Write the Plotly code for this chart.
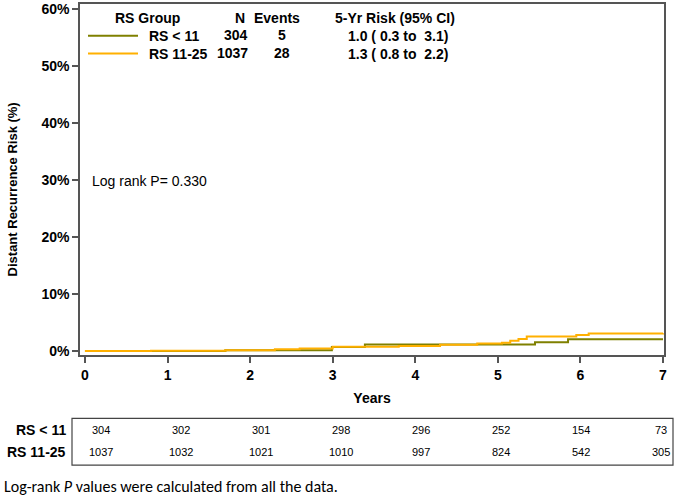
import plotly.graph_objects as go

# ---- data ----
groups = ["RS < 11", "RS 11-25"]
group_n = [304, 1037]
group_events = [5, 28]
group_risk = ["1.0 ( 0.3 to  3.1)", "1.3 ( 0.8 to  2.2)"]
colors = ["#7F8000", "#FFB000"]

rs_lt11_years = [0, 1.7, 2.99, 3.39, 5.45, 5.85, 7.0]
rs_lt11_risk = [0.0, 0.15, 0.7, 1.15, 1.55, 2.05, 2.05]

rs_11_25_years = [0, 0.8, 1.7, 2.3, 2.6, 3.0, 3.8, 4.3, 4.75, 5.05, 5.15, 5.25, 5.35, 5.95, 6.1, 7.0]
rs_11_25_risk = [0.0, 0.05, 0.15, 0.3, 0.45, 0.75, 0.9, 1.1, 1.3, 1.45, 1.8, 2.1, 2.55, 2.8, 3.05, 3.1]

risk_years = [0, 1, 2, 3, 4, 5, 6, 7]
at_risk_lt11 = [304, 302, 301, 298, 296, 252, 154, 73]
at_risk_11_25 = [1037, 1032, 1021, 1010, 997, 824, 542, 305]

y_ticks = [0, 10, 20, 30, 40, 50, 60]

FONT = "Liberation Sans, Arial, sans-serif"

fig = go.Figure()
fig.add_trace(go.Scatter(x=rs_lt11_years, y=rs_lt11_risk, mode="lines", line_shape="hv",
                         line=dict(color=colors[0], width=2), showlegend=False))
fig.add_trace(go.Scatter(x=rs_11_25_years, y=rs_11_25_risk, mode="lines", line_shape="hv",
                         line=dict(color=colors[1], width=2), showlegend=False))

axis_common = dict(showline=True, linecolor="#555555", linewidth=1.5, mirror=True,
                   ticks="outside", ticklen=6, tickcolor="#555555", tickwidth=1.5,
                   showgrid=False, zeroline=False, ticklabeloverflow="allow",
                   tickfont=dict(family=FONT, size=14, color="black", weight="bold"))

fig.update_layout(
    width=675, height=499,
    margin=dict(l=80, r=11, t=1, b=144),
    paper_bgcolor="white", plot_bgcolor="white",
    xaxis=dict(range=[-0.06, 7.012], tickvals=risk_years,
               title=dict(text="<b>Years</b>", font=dict(family=FONT, size=14, color="black"), standoff=12),
               **axis_common),
    # invisible axis for the number-at-risk table columns
    xaxis2=dict(range=[-0.2625, 7.0375], overlaying="x", anchor="y", visible=False),
    yaxis=dict(range=[-0.7, 60.87], tickvals=y_ticks, ticktext=[f"{v}%" for v in y_ticks],
               **axis_common),
)

def ypaper(py):
    return (355 - py) / 354

def xpaper(px):
    return (px - 80) / 584

fig.add_annotation(x=xpaper(12), y=ypaper(188), xref="paper", yref="paper",
                   text="<b>Distant Recurrence Risk (%)</b>", textangle=-90,
                   xanchor="center", yanchor="middle", showarrow=False,
                   font=dict(family=FONT, size=13, color="black"))

ann = []
hdr_font = dict(family=FONT, size=14, color="black")
ann.append(dict(x=xpaper(113), y=ypaper(15), text="<b>RS Group</b>", xanchor="left"))
ann.append(dict(x=xpaper(240), y=ypaper(15), text="<b>N</b>", xanchor="center"))
ann.append(dict(x=xpaper(252), y=ypaper(15), text="<b>Events</b>", xanchor="left"))
ann.append(dict(x=xpaper(333), y=ypaper(15), text="<b>5-Yr Risk (95% CI)</b>", xanchor="left"))
for i, (g, n, e, r) in enumerate(zip(groups, group_n, group_events, group_risk)):
    py = 33 + 18 * i
    ann.append(dict(x=xpaper(147), y=ypaper(py), text=f"<b>{g}</b>", xanchor="left"))
    ann.append(dict(x=xpaper(250), y=ypaper(py - 1), text=f"<b>{n}</b>", xanchor="right"))
    ann.append(dict(x=xpaper(282), y=ypaper(py - 1), text=f"<b>{e}</b>", xanchor="center"))
    ann.append(dict(x=xpaper(346), y=ypaper(py), text=f"<b>{r.replace(' ', '&nbsp;')}</b>", xanchor="left"))
    fig.add_shape(type="line", xref="paper", yref="paper", x0=xpaper(88), x1=xpaper(138),
                  y0=ypaper(py), y1=ypaper(py), line=dict(color=colors[i], width=2))
for a in ann:
    a.update(xref="paper", yref="paper", yanchor="middle", showarrow=False, font=hdr_font)
    fig.add_annotation(**a)

fig.add_annotation(x=xpaper(90), y=ypaper(180), xref="paper", yref="paper", text="Log rank P= 0.330",
                   xanchor="left", yanchor="middle", showarrow=False,
                   font=dict(family=FONT, size=14, color="black"))

# risk table box
fig.add_shape(type="rect", xref="paper", yref="paper", x0=xpaper(72), x1=xpaper(673),
              y0=ypaper(466), y1=ypaper(419), line=dict(color="#444444", width=1.2))
for j, (g, vals) in enumerate(zip(groups, [at_risk_lt11, at_risk_11_25])):
    py = 431 + 22 * j
    fig.add_annotation(x=xpaper(68), y=ypaper(py), xref="paper", yref="paper", text=f"<b>{g}</b>",
                       xanchor="right", yanchor="middle", showarrow=False,
                       font=dict(family=FONT, size=14, color="black"))
    for yr, v in zip(risk_years, vals):
        fig.add_annotation(x=yr, y=ypaper(py), xref="x2", yref="paper", text=str(v),
                           xanchor="center", yanchor="middle", showarrow=False,
                           font=dict(family="Liberation Sans Narrow, Liberation Sans, Arial, sans-serif",
                                     size=11, color="black"))

fig.add_annotation(x=xpaper(2), y=ypaper(488), xref="paper", yref="paper",
                   text="Log-rank <i>P</i> values were calculated from all the data.",
                   xanchor="left", yanchor="middle", showarrow=False,
                   font=dict(family="Carlito, Lato, sans-serif", size=16, color="black"))

fig.write_html("out.html", post_script="document.body.style.margin='0px';",
               config={"displayModeBar": False})
